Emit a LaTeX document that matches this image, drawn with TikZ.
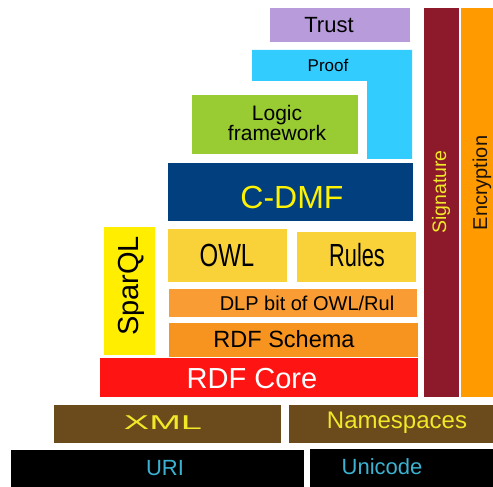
\documentclass[tikz,border=0pt]{standalone}
\usepackage{fontspec}
\setmainfont{Liberation Sans}
\definecolor{ctrust}{HTML}{B89BDB}
\definecolor{cproof}{HTML}{33CCFF}
\definecolor{clogic}{HTML}{99CC33}
\definecolor{ccdmf}{HTML}{013F7E}
\definecolor{cowl}{HTML}{F9D23A}
\definecolor{csparql}{HTML}{FFEE00}
\definecolor{cdlp}{HTML}{F99C33}
\definecolor{cschema}{HTML}{F7931F}
\definecolor{ccore}{HTML}{FF1414}
\definecolor{csig}{HTML}{8C1A2A}
\definecolor{cenc}{HTML}{FF9A00}
\definecolor{cxml}{HTML}{6B4A1C}
\definecolor{cyel}{HTML}{F0E828}
\definecolor{curi}{HTML}{3BB2D2}
\newcommand{\fs}[1]{\fontsize{#1bp}{#1bp}\selectfont}
\begin{document}
\begin{tikzpicture}[x=1bp,y=-1bp,
  lbl/.style={inner sep=0pt, anchor=center}]
\useasboundingbox (0,0) rectangle (493,487);
\fill[white] (0,0) rectangle (493,487);
% boxes
\fill[ctrust] (270,8) rectangle (410,42);
\fill[cproof] (252,50) -- (412,50) -- (412,159) -- (367,159) -- (367,81) -- (252,81) -- cycle;
\fill[clogic] (192,95) rectangle (358,154);
\fill[ccdmf] (168,163) rectangle (413,221);
\fill[csig] (424,8) rectangle (459,397);
\fill[cenc] (461,8) rectangle (493,397);
\fill[csparql] (104,227) rectangle (155,355);
\fill[cowl] (168,229) rectangle (287,282);
\fill[cowl] (297,232) rectangle (416,282);
\fill[cdlp] (169,289) rectangle (417,317);
\fill[cschema] (169,323) rectangle (418,357);
\fill[ccore] (100,358) rectangle (418,397);
\fill[cxml] (54,405) rectangle (281,443);
\fill[cxml] (289,405) rectangle (493,443);
\fill[black] (11,450) rectangle (304,487);
\fill[black] (310,449) rectangle (493,487);
% labels
\node[lbl] (trust) at (329,25) {\fs{22}Trust};
\node[lbl] (proof) at (328,65) {\fs{17}Proof};
\node[lbl, align=center] (logic) at (277,123) {\fs{21}Logic\\[-1bp]\fs{21}framework};
\node[lbl, text=yellow] (cdmf) at (292,197) {\fs{32}C-DMF};
\node[lbl] (owl) at (227,255) {\scalebox{0.75}[1]{\fs{32}OWL}};
\node[lbl] (rules) at (357,255) {\scalebox{0.68}[1]{\fs{32}Rules}};
\node[lbl, rotate=90] (sparql) at (131,286) {\fs{29}SparQL};
\node[lbl] (dlp) at (307,303) {\fs{20}DLP bit of OWL/Rul};
\node[lbl] (schema) at (284,339) {\fs{23.5}RDF Schema};
\node[lbl, text=white] (core) at (252,379) {\fs{29}RDF Core};
\node[lbl, text=cyel] (xml) at (163,423) {\scalebox{1.9}[1]{\fs{20}XML}};
\node[lbl, text=cyel] (ns) at (397,423) {\fs{24}Namespaces};
\node[lbl, text=curi] (uri) at (165,468) {\fs{22}URI};
\node[lbl, text=curi] (uni) at (382,467) {\fs{22}Unicode};
\node[lbl, rotate=90, text=cyel] (sig) at (441,192) {\fs{19.5}Signature};
\node[lbl, rotate=90, text=black!85!brown] (enc) at (482,183) {\fs{20}Encryption};
\end{tikzpicture}
\end{document}
